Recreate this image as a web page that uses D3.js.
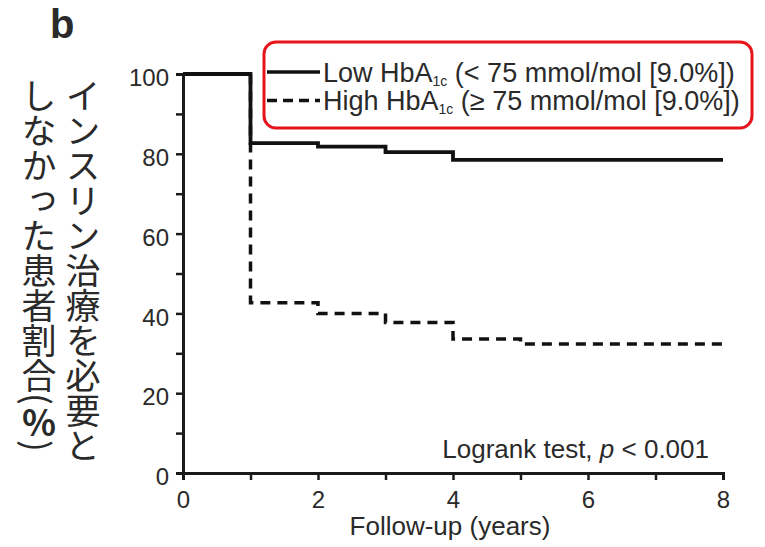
<!DOCTYPE html>
<html>
<head>
<meta charset="utf-8">
<script src="https://cdn.jsdelivr.net/npm/d3@7"></script>
<style>
  body { margin: 0; background: #fff; }
  svg text { font-family: "Liberation Sans", Arial, sans-serif; fill: #2a2a2a; }
</style>
</head>
<body>
<div id="chart"></div>
<script>
// follow-up time (years) where each curve steps, and % free of insulin
const lowTimes = [0, 1, 2, 3, 4, 8];
const lowValues = [100, 82.7, 81.8, 80.4, 78.5, 78.5];
const highTimes = [0, 1, 2, 3, 4, 5, 8];
const highValues = [100, 42.7, 40.0, 37.7, 33.6, 32.3, 32.3];

const xTicks = [0, 1, 2, 3, 4, 5, 6, 7, 8];
const yTicks = [0, 10, 20, 30, 40, 50, 60, 70, 80, 90, 100];
const legendLabels = [
  {name: 'Low HbA', sub: '1c', rest: ' (< 75 mmol/mol [9.0%])'},
  {name: 'High HbA', sub: '1c', rest: ' (\u2265 75 mmol/mol [9.0%])'}
];
const yTitleRight = 'インスリン治療を必要と';
const yTitleLeft = 'しなかった患者割合';
const xTitle = 'Follow-up (years)';

const width = 765;
const height = 547;

const svg = d3.select('#chart')
  .append('svg')
  .attr('width', width)
  .attr('height', height);

const x = d3.scaleLinear().domain([0, 8]).range([183, 723]);
const y = d3.scaleLinear().domain([0, 100]).range([473, 74]);

// axes
const xAxis = d3.axisBottom(x)
  .tickValues(xTicks)
  .tickSize(7)
  .tickFormat(d => d % 2 === 0 ? d : '');
const yAxis = d3.axisLeft(y)
  .tickValues(yTicks)
  .tickSize(7)
  .tickFormat(d => d % 20 === 0 ? d : '');

const gx = svg.append('g')
  .attr('transform', 'translate(0,' + y(0) + ')')
  .call(xAxis);
const gy = svg.append('g')
  .attr('transform', 'translate(' + x(0) + ',0)')
  .call(yAxis);

[gx, gy].forEach(g => {
  g.select('.domain').attr('stroke', '#1a1a1a').attr('stroke-width', 3);
  g.selectAll('.tick line').attr('stroke', '#1a1a1a').attr('stroke-width', 2.5);
  g.selectAll('.tick text')
    .attr('fill', '#2a2a2a')
    .style('font-size', '24px')
    .style('font-family', '"Liberation Sans", Arial, sans-serif');
});
gx.selectAll('.tick text').attr('y', 35).attr('dy', 0);
gy.selectAll('.tick text').attr('x', -14).attr('y', 4);

// curves
const stepLine = d3.line()
  .x(d => x(d[0]))
  .y(d => y(d[1]))
  .curve(d3.curveStepAfter);

svg.append('path')
  .datum(highTimes.map((t, i) => [t, highValues[i]]))
  .attr('d', stepLine)
  .attr('fill', 'none')
  .attr('stroke', '#111')
  .attr('stroke-width', 3.5)
  .attr('stroke-dasharray', '10,7');

svg.append('path')
  .datum(lowTimes.map((t, i) => [t, lowValues[i]]))
  .attr('d', stepLine)
  .attr('fill', 'none')
  .attr('stroke', '#111')
  .attr('stroke-width', 3.8);

// legend
svg.append('rect')
  .attr('x', 264)
  .attr('y', 42)
  .attr('width', 488)
  .attr('height', 86)
  .attr('rx', 12)
  .attr('fill', 'none')
  .attr('stroke', '#e8141b')
  .attr('stroke-width', 3);

legendLabels.forEach((lab, i) => {
  const ly = 72 + i * 28.5;
  svg.append('line')
    .attr('x1', 267).attr('x2', 320)
    .attr('y1', ly).attr('y2', ly)
    .attr('stroke', '#111')
    .attr('stroke-width', 3.5)
    .attr('stroke-dasharray', i === 1 ? '10,6' : null);
  const t = svg.append('text')
    .attr('x', 323)
    .attr('y', ly + 9.5)
    .style('font-size', '27px');
  t.append('tspan').text(lab.name);
  t.append('tspan').text(lab.sub).attr('dy', 4).style('font-size', '14px');
  t.append('tspan').text(lab.rest).attr('dy', -4);
});

// logrank note
const note = svg.append('text')
  .attr('x', 709)
  .attr('y', 458)
  .attr('text-anchor', 'end')
  .style('font-size', '26px');
note.append('tspan').text('Logrank test, ');
note.append('tspan').text('p').style('font-style', 'italic');
note.append('tspan').text(' < 0.001');

// axis titles
svg.append('text')
  .attr('x', 450)
  .attr('y', 535)
  .attr('text-anchor', 'middle')
  .style('font-size', '26px')
  .text(xTitle);

const jpFont = '"Noto Sans CJK JP", sans-serif';
svg.append('text')
  .attr('x', 83)
  .attr('y', 78)
  .style('writing-mode', 'vertical-rl')
  .style('font-family', jpFont)
  .style('font-size', '35px')
  .attr('fill', '#000')
  .text(yTitleRight);

const left = svg.append('text')
  .attr('x', 39)
  .attr('y', 78)
  .style('writing-mode', 'vertical-rl')
  .style('font-family', jpFont)
  .style('font-size', '35px')
  .attr('fill', '#000');
left.append('tspan').text(yTitleLeft + '(');
left.append('tspan').text('％').style('text-orientation', 'upright').style('font-weight', 'bold');
left.append('tspan').text(')');

// panel letter
svg.append('text')
  .attr('x', 50)
  .attr('y', 38)
  .style('font-size', '40px')
  .style('font-weight', 'bold')
  .attr('fill', '#000')
  .text('b');
</script>
</body>
</html>
